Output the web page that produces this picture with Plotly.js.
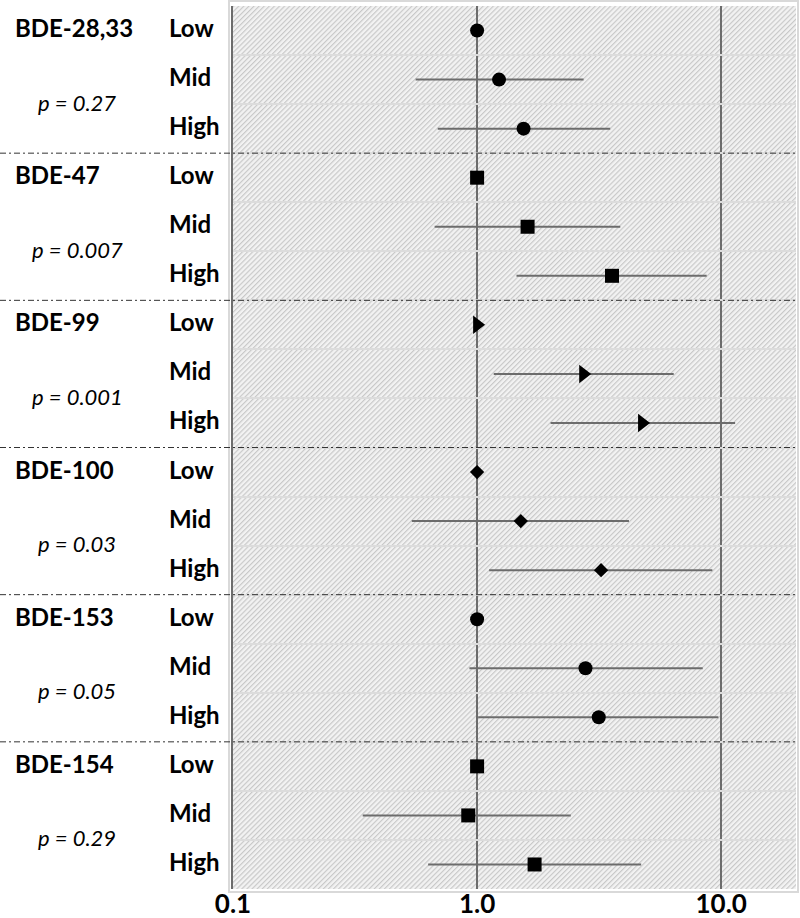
<!DOCTYPE html>
<html>
<head>
<meta charset="utf-8">
<script src="https://cdn.plot.ly/plotly-3.0.1.min.js"></script>
<style>html,body{margin:0;padding:0;background:#fff;}#chart{width:800px;height:918px;}</style>
</head>
<body>
<div id="chart"></div>
<script>
// ---- data ----
const groups = ['BDE-28,33', 'BDE-47', 'BDE-99', 'BDE-100', 'BDE-153', 'BDE-154'];
const pLabels = ['p = 0.27', 'p = 0.007', 'p = 0.001', 'p = 0.03', 'p = 0.05', 'p = 0.29'];
const levels = ['Low', 'Mid', 'High'];
const est_28_33 = [1.0, 1.23, 1.55];
const lo_28_33  = [1.0, 0.56, 0.69];
const hi_28_33  = [1.0, 2.73, 3.51];
const est_47 = [1.0, 1.61, 3.57];
const lo_47  = [1.0, 0.67, 1.45];
const hi_47  = [1.0, 3.86, 8.72];
const est_99 = [1.0, 2.72, 4.74];
const lo_99  = [1.0, 1.17, 2.00];
const hi_99  = [1.0, 6.39, 11.4];
const est_100 = [1.0, 1.51, 3.22];
const lo_100  = [1.0, 0.54, 1.12];
const hi_100  = [1.0, 4.19, 9.20];
const est_153 = [1.0, 2.78, 3.15];
const lo_153  = [1.0, 0.93, 1.01];
const hi_153  = [1.0, 8.40, 9.74];
const est_154 = [1.0, 0.92, 1.72];
const lo_154  = [1.0, 0.34, 0.63];
const hi_154  = [1.0, 2.42, 4.70];
const xTickVals = [0.1, 1, 10];
const xTickText = ['0.1', '1.0', '10.0'];

// ---- styling ----
const series = [
  {est: est_28_33, lo: lo_28_33, hi: hi_28_33, symbol: 'circle', size: 14},
  {est: est_47, lo: lo_47, hi: hi_47, symbol: 'square', size: 14},
  {est: est_99, lo: lo_99, hi: hi_99, symbol: 'triangle-right', size: 16},
  {est: est_100, lo: lo_100, hi: hi_100, symbol: 'diamond', size: 11},
  {est: est_153, lo: lo_153, hi: hi_153, symbol: 'circle', size: 14},
  {est: est_154, lo: lo_154, hi: hi_154, symbol: 'square', size: 14}
];
const FONT = 'Lato, "Open Sans", sans-serif';
const L = 233, R = 4, T = 6, B = 29, W = 800, H = 918;
const PW = W - L - R, PH = H - T - B;
const lineGray = '#6c6c6c';
const nRows = groups.length * levels.length;

const traces = series.map((s, g) => ({
  type: 'scatter', mode: 'markers',
  x: s.est,
  y: levels.map((_, i) => g * levels.length + i),
  error_x: {
    type: 'data', symmetric: false,
    array: s.est.map((v, i) => s.hi[i] - v),
    arrayminus: s.est.map((v, i) => v - s.lo[i]),
    color: lineGray, thickness: 2, width: 0
  },
  marker: {symbol: s.symbol, size: s.size, color: '#000', line: {width: 0}},
  showlegend: false, hoverinfo: 'skip', cliponaxis: false
}));

const px = v => (v - L) / PW;   // pixel x -> paper x
const annotations = [];
groups.forEach((name, g) => {
  annotations.push({xref: 'paper', yref: 'y', x: px(13), y: g * 3, xanchor: 'left', yanchor: 'middle',
    text: '<b>' + name + '</b>', showarrow: false, yshift: 3, font: {family: FONT, size: 24, color: '#000'}});
  annotations.push({xref: 'paper', yref: 'y', x: px(77), y: g * 3 + 1.5, xanchor: 'center', yanchor: 'middle',
    text: '<i>' + pLabels[g] + '</i>', showarrow: false, yshift: 2, font: {family: FONT, size: 22, color: '#000'}});
  levels.forEach((lv, i) => {
    annotations.push({xref: 'paper', yref: 'y', x: px(167), y: g * 3 + i, xanchor: 'left', yanchor: 'middle',
      text: '<b>' + lv + '</b>', showarrow: false, yshift: 3, font: {family: FONT, size: 24, color: '#000'}});
  });
});

const shapes = [];
// outer light frame
shapes.push({type: 'rect', xref: 'paper', yref: 'paper', x0: px(229), x1: px(798),
  y0: -3 / PH, y1: 1 + 5 / PH, line: {color: '#d9d9d9', width: 2}, fillcolor: 'rgba(0,0,0,0)', layer: 'below'});
// dash-dot group separators
for (let g = 1; g < groups.length; g++) {
  shapes.push({type: 'line', xref: 'paper', yref: 'y', x0: px(0), x1: 1, y0: g * 3 - 0.5, y1: g * 3 - 0.5,
    line: {color: '#333', width: 1, dash: '6px,3px,2px,3px'}, layer: 'above'});
}

const rowBounds = [];
for (let k = 0; k < nRows - 1; k++) rowBounds.push(k + 0.5);

const svg = "<svg xmlns='http://www.w3.org/2000/svg' width='" + PW + "' height='" + PH + "' preserveAspectRatio='none'>" +
  "<defs><pattern id='p' width='3.6' height='3.6' patternUnits='userSpaceOnUse' patternTransform='rotate(45)'>" +
  "<rect width='3.6' height='3.6' fill='#f2f2f2'/><line x1='0.6' y1='0' x2='0.6' y2='3.6' stroke='#c6c6c6' stroke-width='1.1'/></pattern></defs>" +
  "<rect width='100%' height='100%' fill='url(#p)'/></svg>";

const layout = {
  width: W, height: H,
  margin: {l: L, r: R, t: T, b: B, pad: 0},
  paper_bgcolor: '#fff', plot_bgcolor: 'rgba(0,0,0,0)',
  showlegend: false,
  xaxis: {
    type: 'log', range: [-1, -1 + PW / 244.1],
    tickvals: xTickVals, ticktext: xTickText.map(t => '<b>' + t + '</b>'),
    tickfont: {family: FONT, size: 26, color: '#000'},
    ticklabelstandoff: -3,
    showgrid: true, gridcolor: lineGray, gridwidth: 2,
    zeroline: false, showline: false, ticks: '', fixedrange: true
  },
  yaxis: {
    range: [nRows - 0.5, -0.5],
    tickvals: rowBounds, showticklabels: false, ticks: '',
    showgrid: true, gridcolor: '#dcdcdc', gridwidth: 2,
    zeroline: false, showline: true, linecolor: lineGray, linewidth: 2, fixedrange: true
  },
  images: [{source: 'data:image/svg+xml;charset=utf-8,' + encodeURIComponent(svg),
    xref: 'paper', yref: 'paper', x: 0, y: 1, sizex: 1, sizey: 1,
    xanchor: 'left', yanchor: 'top', sizing: 'stretch', layer: 'below'}],
  shapes: shapes,
  annotations: annotations
};

Plotly.newPlot('chart', traces, layout, {displayModeBar: false, staticPlot: true});
</script>
</body>
</html>
